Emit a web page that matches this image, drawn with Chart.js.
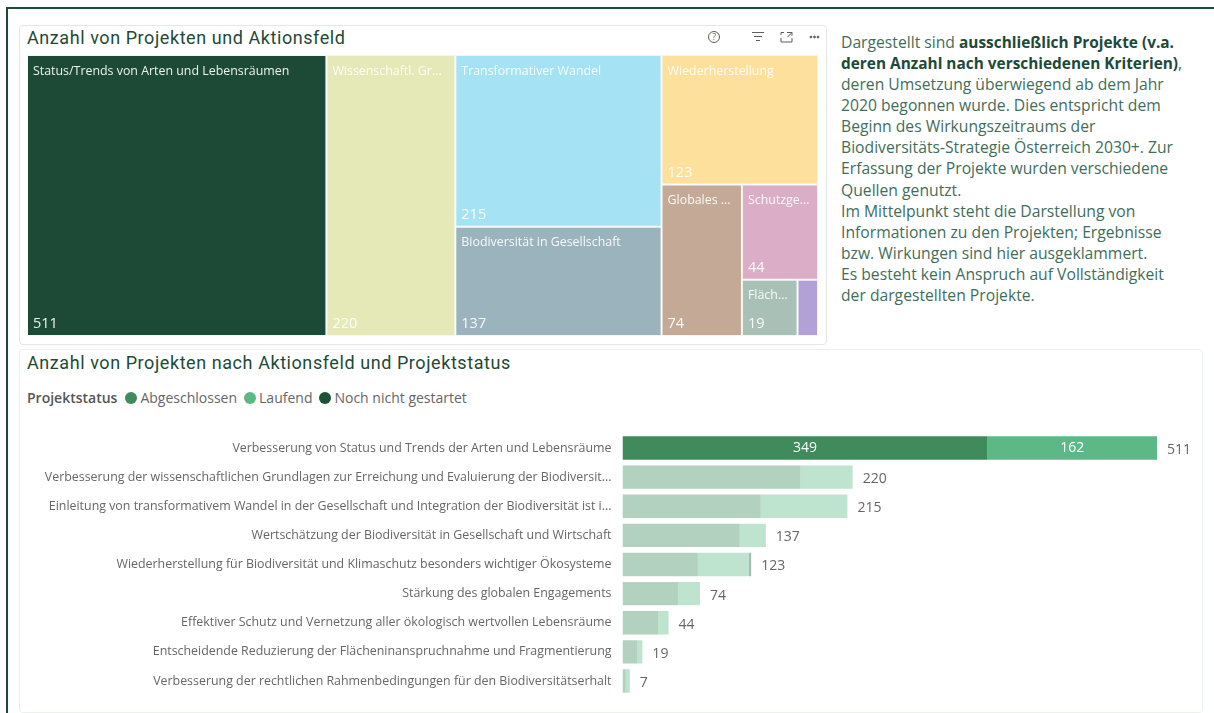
<!DOCTYPE html>
<html lang="de">
<head>
<meta charset="utf-8">
<title>Anzahl von Projekten</title>
<script src="https://cdn.jsdelivr.net/npm/chart.js@4"></script>
<style>
    html, body { margin: 0; padding: 0; background: #fff; width: 1214px; height: 713px; overflow: hidden; }
    body { position: relative; font-family: "Open Sans", "Noto Sans", sans-serif; }
    .frame { position: absolute; left: 6px; top: 7px; width: 1208px; height: 706px; border-left: 2px solid #1d4a37; border-top: 2px solid #1d4a37; box-sizing: border-box; }
    .card { position: absolute; box-sizing: border-box; background: #fff; border-radius: 4px; }
    #card-top { left: 19px; top: 25px; width: 808px; height: 320px; border: 1px solid #e6e6e6; }
    #card-bottom { left: 19px; top: 349px; width: 1184px; height: 364px; border: 1px solid #e9f2ec; }
    .title { position: absolute; left: 27px; font-family: Roboto, sans-serif; font-size: 18px; letter-spacing: 0.57px; color: #1d4a37; white-space: nowrap; line-height: 22px; }
    .chart-box { position: absolute; }
    #legend { position: absolute; left: 27px; top: 388px; height: 20px; line-height: 20px; font-size: 14px; color: #666; white-space: nowrap; display: flex; align-items: center; }
    #legend b { color: #555; font-weight: 600; margin-right: 8px; }
    #legend i { display: inline-block; width: 12px; height: 12px; border-radius: 50%; margin-right: 3px; }
    #legend span { margin-right: 7px; }
    #note { position: absolute; left: 841px; top: 32px; font-size: 15.7px; line-height: 21.08px; color: #3f6e5a; white-space: nowrap; }
    #note b { color: #1d4a37; font-weight: 700; font-size: 15.4px; }
    .icons { position: absolute; left: 706px; top: 29px; }
</style>
</head>
<body>
<div class="frame"></div>
<div class="card" id="card-top"></div>
<div class="card" id="card-bottom"></div>

<div class="title" style="top: 27px;">Anzahl von Projekten und Aktionsfeld</div>
<svg class="icons" width="116" height="16" viewBox="0 0 116 16" fill="none" stroke="#605e5c" stroke-width="1">
    <circle cx="8" cy="8" r="5.5"/>
    <text x="8" y="11" font-size="8.5" text-anchor="middle" fill="#605e5c" stroke="none" font-family="Open Sans">?</text>
    <path d="M46 3.5h12M48 7.5h8M50 11.5h4"/>
    <path d="M75 6V3.5h3M75 9v4h11V9M81 3.500h5v3M86 3.500l-4.500 4.500"/>
    <circle cx="105" cy="8" r="0.9" fill="#605e5c"/><circle cx="108.500" cy="8" r="0.9" fill="#605e5c"/><circle cx="112" cy="8" r="0.9" fill="#605e5c"/>
</svg>
<div class="chart-box" style="left: 27px; top: 55px; width: 791px; height: 281px;"><canvas id="treemap"></canvas></div>

<div id="note">
    Dargestellt sind <b>ausschließlich Projekte (v.a.</b><br>
    <b>deren Anzahl nach verschiedenen Kriterien)</b>,<br>
    deren Umsetzung überwiegend ab dem Jahr<br>
    2020 begonnen wurde. Dies entspricht dem<br>
    Beginn des Wirkungszeitraums der<br>
    Biodiversitäts-Strategie Österreich 2030+. Zur<br>
    Erfassung der Projekte wurden verschiedene<br>
    Quellen genutzt.<br>
    Im Mittelpunkt steht die Darstellung von<br>
    Informationen zu den Projekten; Ergebnisse<br>
    bzw. Wirkungen sind hier ausgeklammert.<br>
    Es besteht kein Anspruch auf Vollständigkeit<br>
    der dargestellten Projekte.
</div>

<div class="title" style="top: 352px;">Anzahl von Projekten nach Aktionsfeld und Projektstatus</div>
<div id="legend"></div>
<div class="chart-box" style="left: 19px; top: 423px; width: 1183px; height: 283px;"><canvas id="bars"></canvas></div>

<script>
// treemap
const cellLabels = ['Status/Trends von Arten und Lebensräumen', 'Wissenschaftl. Gr...', 'Transformativer Wandel', 'Biodiversität in Gesellschaft', 'Wiederherstellung', 'Globales ...', 'Schutzge...', 'Fläch...', ''];
const cellValues = [511, 220, 215, 137, 123, 74, 44, 19, 7];
const cellColors = ['#1d4a37', '#e4e9b7', '#a5e2f3', '#9ab3bd', '#fde09b', '#c4a996', '#dbadc6', '#a8c0b6', '#b2a1d6'];
// nesting of the cells, every level flips the split direction
const cellTree = [0, 1, [2, 3], [4, [5, [6, [7, 8]]]]];

// bars
const categories = [
    'Verbesserung von Status und Trends der Arten und Lebensräume',
    'Verbesserung der wissenschaftlichen Grundlagen zur Erreichung und Evaluierung der Biodiversit...',
    'Einleitung von transformativem Wandel in der Gesellschaft und Integration der Biodiversität ist i...',
    'Wertschätzung der Biodiversität in Gesellschaft und Wirtschaft',
    'Wiederherstellung für Biodiversität und Klimaschutz besonders wichtiger Ökosysteme',
    'Stärkung des globalen Engagements',
    'Effektiver Schutz und Vernetzung aller ökologisch wertvollen Lebensräume',
    'Entscheidende Reduzierung der Flächeninanspruchnahme und Fragmentierung',
    'Verbesserung der rechtlichen Rahmenbedingungen für den Biodiversitätserhalt'
];
const abgeschlossen = [349, 170, 132, 112, 72, 53, 34, 14, 3];
const laufend = [162, 50, 83, 25, 49, 21, 10, 5, 4];
const nochNicht = [0, 0, 0, 0, 2, 0, 0, 0, 0];
const totals = [511, 220, 215, 137, 123, 74, 44, 19, 7];
const seriesNames = ['Abgeschlossen', 'Laufend', 'Noch nicht gestartet'];
const seriesColors = ['#3f8b5c', '#5cb886', '#1d5237'];
const fadedColors = ['rgba(63, 139, 92, 0.4)', 'rgba(92, 184, 134, 0.4)', 'rgba(29, 82, 55, 0.4)'];
const highlightedRow = 0;

const textFont = '"Open Sans", "Noto Sans", sans-serif';

const legend = document.getElementById('legend');
legend.innerHTML = '<b>Projektstatus</b>' + seriesNames.map((name, i) =>
    `<i style="background:${seriesColors[i]}"></i><span>${name}</span>`).join('');

// walks the tree and turns it into data ranges on the 0..total / 0..1 axes
function sumNode(node) {
    return Array.isArray(node) ? node.reduce((sum, n) => sum + sumNode(n), 0) : cellValues[node];
}

function layoutNode(node, box, horizontal, out) {
    if (!Array.isArray(node)) {
        out[node] = box;
        return;
    }
    const total = sumNode(node);
    let pos = horizontal ? box.x0 : box.y0;
    node.forEach(child => {
        const share = sumNode(child) / total;
        const size = share * (horizontal ? box.x1 - box.x0 : box.y1 - box.y0);
        const next = horizontal
            ? { x0: pos, x1: pos + size, y0: box.y0, y1: box.y1 }
            : { x0: box.x0, x1: box.x1, y0: pos, y1: pos + size };
        layoutNode(child, next, !horizontal, out);
        pos += size;
    });
}

const cellTotal = sumNode(cellTree);
const cellBoxes = [];
layoutNode(cellTree, { x0: 0, x1: cellTotal, y0: 0, y1: 1 }, true, cellBoxes);

// bar element sized on both axes, the rest comes from the bar controller
class CellController extends Chart.BarController {
    updateElements(rects, start, count, mode) {
        const xScale = this._cachedMeta.xScale;
        const yScale = this._cachedMeta.yScale;
        for (let i = start; i < start + count; i++) {
            const box = this.getDataset().data[i];
            const top = yScale.getPixelForValue(box.y0);
            const bottom = yScale.getPixelForValue(box.y1);
            this.updateElement(rects[i], i, {
                horizontal: true,
                base: xScale.getPixelForValue(box.x0),
                x: xScale.getPixelForValue(box.x1),
                y: (top + bottom) / 2,
                height: bottom - top,
                borderSkipped: {},
                enableBorderRadius: false,
                inflateAmount: 0,
                options: this.resolveDataElementOptions(i, mode)
            }, mode);
        }
    }
}
CellController.id = 'cell';
CellController.defaults = Chart.BarController.defaults;
CellController.overrides = Chart.BarController.overrides;
Chart.register(CellController);

const cellText = {
    id: 'cellText',
    afterDatasetsDraw(chart) {
        const ctx = chart.ctx;
        ctx.save();
        ctx.fillStyle = 'rgba(255, 255, 255, 0.92)';
        ctx.textAlign = 'left';
        ctx.textBaseline = 'middle';
        chart.getDatasetMeta(0).data.forEach((rect, i) => {
            if (!cellLabels[i]) return;
            const left = Math.min(rect.x, rect.base);
            ctx.font = '12.4px ' + textFont;
            ctx.fillText(cellLabels[i], left + 6, rect.y - rect.height / 2 + 16);
            ctx.font = '14.5px ' + textFont;
            ctx.fillText(String(cellValues[i]), left + 6, rect.y + rect.height / 2 - 12);
        });
        ctx.restore();
    }
};

new Chart(document.getElementById('treemap'), {
    type: 'cell',
    data: {
        datasets: [{
            data: cellBoxes.map(box => ({ ...box, x: (box.x0 + box.x1) / 2, y: (box.y0 + box.y1) / 2 })),
            backgroundColor: cellColors,
            borderColor: '#f4f6f5',
            borderWidth: 1
        }]
    },
    options: {
        responsive: true,
        maintainAspectRatio: false,
        animation: false,
        events: [],
        plugins: { legend: { display: false }, tooltip: { enabled: false } },
        scales: {
            x: { type: 'linear', min: 0, max: cellTotal, offset: false, display: false },
            y: { type: 'linear', min: 0, max: 1, offset: false, reverse: true, display: false }
        }
    },
    plugins: [cellText]
});

const barText = {
    id: 'barText',
    afterDatasetsDraw(chart) {
        const ctx = chart.ctx;
        ctx.save();
        ctx.textBaseline = 'middle';
        ctx.font = '14px ' + textFont;
        ctx.textAlign = 'center';
        ctx.fillStyle = '#fff';
        chart.data.datasets.forEach((dataset, d) => {
            const rect = chart.getDatasetMeta(d).data[highlightedRow];
            if (dataset.data[highlightedRow] > 0) {
                ctx.fillText(String(dataset.data[highlightedRow]), (rect.x + rect.base) / 2, rect.y);
            }
        });
        ctx.textAlign = 'left';
        ctx.fillStyle = '#666';
        totals.forEach((total, i) => {
            ctx.fillText(String(total), chart.scales.x.getPixelForValue(total) + 10, chart.scales.y.getPixelForValue(i) + 2);
        });
        ctx.restore();
    }
};

const rowColors = i => categories.map((_, row) => row === highlightedRow ? seriesColors[i] : fadedColors[i]);

new Chart(document.getElementById('bars'), {
    type: 'bar',
    data: {
        labels: categories,
        datasets: [abgeschlossen, laufend, nochNicht].map((values, i) => ({
            label: seriesNames[i],
            data: values,
            backgroundColor: rowColors(i),
            barPercentage: 0.8,
            categoryPercentage: 1
        }))
    },
    options: {
        indexAxis: 'y',
        responsive: true,
        maintainAspectRatio: false,
        animation: false,
        events: [],
        layout: { autoPadding: false },
        plugins: { legend: { display: false }, tooltip: { enabled: false } },
        scales: {
            x: { stacked: true, min: 0, max: 554, display: false },
            y: {
                stacked: true,
                afterFit: scale => { scale.width = 603.5; },
                grid: { display: false },
                border: { display: false },
                ticks: {
                    autoSkip: false,
                    padding: 3,
                    color: '#666',
                    font: { family: textFont, size: 12.4 }
                }
            }
        }
    },
    plugins: [barText]
});
</script>
</body>
</html>
